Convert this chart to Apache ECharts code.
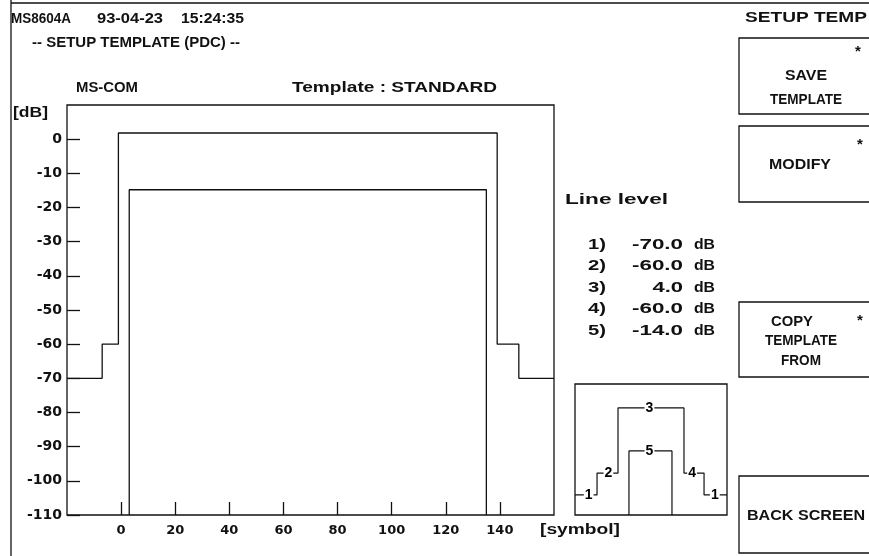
<!DOCTYPE html>
<html><head><meta charset="utf-8">
<script src="https://cdn.jsdelivr.net/npm/echarts@6/dist/echarts.min.js"></script>
<style>html,body{margin:0;padding:0;background:#fff}#c{width:869px;height:556px}</style>
</head><body><div id="c"></div>
<script>
// ---- data ----
const xTickValues = [0, 20, 40, 60, 80, 100, 120, 140];
const yTickValues = [0, -10, -20, -30, -40, -50, -60, -70, -80, -90, -100, -110];
const outerX = [-20, -7, -7, -1, -1, 139, 139, 147, 147, 160];
const outerY = [-70, -70, -60, -60, 1.8, 1.8, -60, -60, -70, -70];
const innerX = [3, 3, 135, 135];
const innerY = [-110, -14.8, -14.8, -110];
const levelNames = ['1)', '2)', '3)', '4)', '5)'];
const levelValues = [-70, -60, 4, -60, -14];
const miniOuterX = [0, 14.5, 14.5, 28.3, 28.3, 71.7, 71.7, 84.9, 84.9, 100];
const miniOuterY = [15.3, 15.3, 32, 32, 81.7, 81.7, 32, 32, 15.3, 15.3];
const miniInnerX = [35.5, 35.5, 63.8, 63.8];
const miniInnerY = [0, 48.9, 48.9, 0];
const miniLabels = ['1', '2', '3', '4', '1', '5'];
const miniLabelX = [9, 22, 49, 77, 92, 49];
const miniLabelY = [15.3, 32, 81.7, 32, 15.3, 48.9];

// ---- helpers ----
const INK = '#111';
const FONT = '"Liberation Sans"';
const NUMFONT = '"DejaVu Sans"';
const mctx = document.createElement('canvas').getContext('2d');
function txt(s, x, y, w, align, size) {
  size = size || 14;
  align = align || 'left';
  const font = 'bold ' + size + 'px ' + FONT;
  mctx.font = font;
  const m = mctx.measureText(s).width;
  const sx = w ? w / m : 1;
  return {
    type: 'text', x: x, y: y, scaleX: sx, silent: true, z: 10,
    style: { text: s, font: font, fill: INK, align: align, verticalAlign: 'middle',
             textAlign: align, textVerticalAlign: 'middle' }
  };
}
function rect(x, y, w, h) {
  return { type: 'rect', silent: true, shape: { x: x, y: y, width: w, height: h },
           style: { fill: 'none', stroke: INK, lineWidth: 1.3 } };
}
function line(x1, y1, x2, y2) {
  return { type: 'line', silent: true, shape: { x1: x1, y1: y1, x2: x2, y2: y2 },
           style: { stroke: INK, lineWidth: 1.3 } };
}
const pairs = (xs, ys) => xs.map((x, i) => [x, ys[i]]);

// ---- graphic elements ----
const graphic = [
  line(11, 0, 11, 556),
  line(11, 3, 869, 3),
  txt('MS8604A', 11, 19, 60),
  txt('93-04-23', 97, 19, 66),
  txt('15:24:35', 181, 19, 63),
  txt('-- SETUP TEMPLATE (PDC) --', 32, 43, 208),
  txt('MS-COM', 76, 88, 62),
  txt('Template : STANDARD', 292, 88, 205),
  txt('[dB]', 13, 113, 35),
  txt('[symbol]', 540, 530, 80),
  txt('Line level', 565, 200, 103),
  txt('SETUP TEMP', 745, 18, 122),
  rect(739, 38, 140, 76),
  rect(739, 126, 140, 76),
  rect(739, 302, 140, 75),
  rect(739, 476, 140, 77),
  txt('*', 855, 52, 0, 'left', 15),
  txt('SAVE', 806, 76, 42, 'center'),
  txt('TEMPLATE', 806, 100, 72, 'center'),
  txt('*', 857, 145, 0, 'left', 15),
  txt('MODIFY', 800, 165, 62, 'center'),
  txt('COPY', 792, 322, 42, 'center'),
  txt('*', 857, 321, 0, 'left', 15),
  txt('TEMPLATE', 801, 341, 72, 'center'),
  txt('FROM', 801, 361, 40, 'center'),
  txt('BACK SCREEN', 806, 516, 118, 'center')
];
levelNames.forEach((n, i) => {
  const y = 245 + i * 21.5;
  graphic.push(txt(n, 588, y, 18));
  const v = levelValues[i].toFixed(1);
  graphic.push(txt(v, 683, y, v.length * 10.2, 'right'));
  graphic.push(txt('dB', 694, y, 21));
});

const axisFont = { color: INK, fontFamily: NUMFONT, fontWeight: 'bold' };

const option = {
  animation: false,
  backgroundColor: '#fff',
  grid: [
    { left: 67, top: 105, width: 487, height: 410, show: true, borderColor: INK, borderWidth: 1.3, backgroundColor: 'transparent' },
    { left: 575, top: 384, width: 152, height: 131, show: true, borderColor: INK, borderWidth: 1.3, backgroundColor: 'transparent' }
  ],
  xAxis: [
    { type: 'value', gridIndex: 0, min: -20, max: 160, interval: 20,
      axisLine: { show: false, onZero: false }, splitLine: { show: false },
      axisTick: { show: true, inside: true, length: 13, customValues: xTickValues, lineStyle: { color: INK, width: 1.3 } },
      axisLabel: Object.assign({ customValues: xTickValues, margin: 9, fontSize: 13 }, axisFont) },
    { type: 'value', gridIndex: 1, min: 0, max: 100, show: false }
  ],
  yAxis: [
    { type: 'value', gridIndex: 0, min: -110, max: 10, interval: 10,
      axisLine: { show: false, onZero: false }, splitLine: { show: false },
      axisTick: { show: true, inside: true, length: 13, customValues: yTickValues, lineStyle: { color: INK, width: 1.3 } },
      axisLabel: Object.assign({ customValues: yTickValues, margin: 5, fontSize: 14 }, axisFont) },
    { type: 'value', gridIndex: 1, min: 0, max: 100, show: false }
  ],
  series: [
    { type: 'line', xAxisIndex: 0, yAxisIndex: 0, data: pairs(outerX, outerY), showSymbol: false, symbol: 'none',
      lineStyle: { color: INK, width: 1.3 }, silent: true },
    { type: 'line', xAxisIndex: 0, yAxisIndex: 0, data: pairs(innerX, innerY), showSymbol: false, symbol: 'none',
      lineStyle: { color: INK, width: 1.3 }, silent: true },
    { type: 'line', xAxisIndex: 1, yAxisIndex: 1, data: pairs(miniOuterX, miniOuterY), showSymbol: false, symbol: 'none',
      lineStyle: { color: INK, width: 1.2 }, silent: true },
    { type: 'line', xAxisIndex: 1, yAxisIndex: 1, data: pairs(miniInnerX, miniInnerY), showSymbol: false, symbol: 'none',
      lineStyle: { color: INK, width: 1.2 }, silent: true },
    { type: 'scatter', xAxisIndex: 1, yAxisIndex: 1, z: 5, symbolSize: 0.1, itemStyle: { color: '#fff', opacity: 1 }, silent: true,
      data: miniLabelX.map((x, i) => ({ value: [x, miniLabelY[i]], label: { formatter: miniLabels[i] } })),
      label: { show: true, position: 'inside', color: '#000', opacity: 1, fontFamily: FONT, fontWeight: 'bold', fontSize: 14,
               backgroundColor: '#fff', padding: [0, 1], textBorderWidth: 0 } }
  ],
  graphic: graphic
};
const chart = echarts.init(document.getElementById('c'));
chart.setOption(option);
</script></body></html>
